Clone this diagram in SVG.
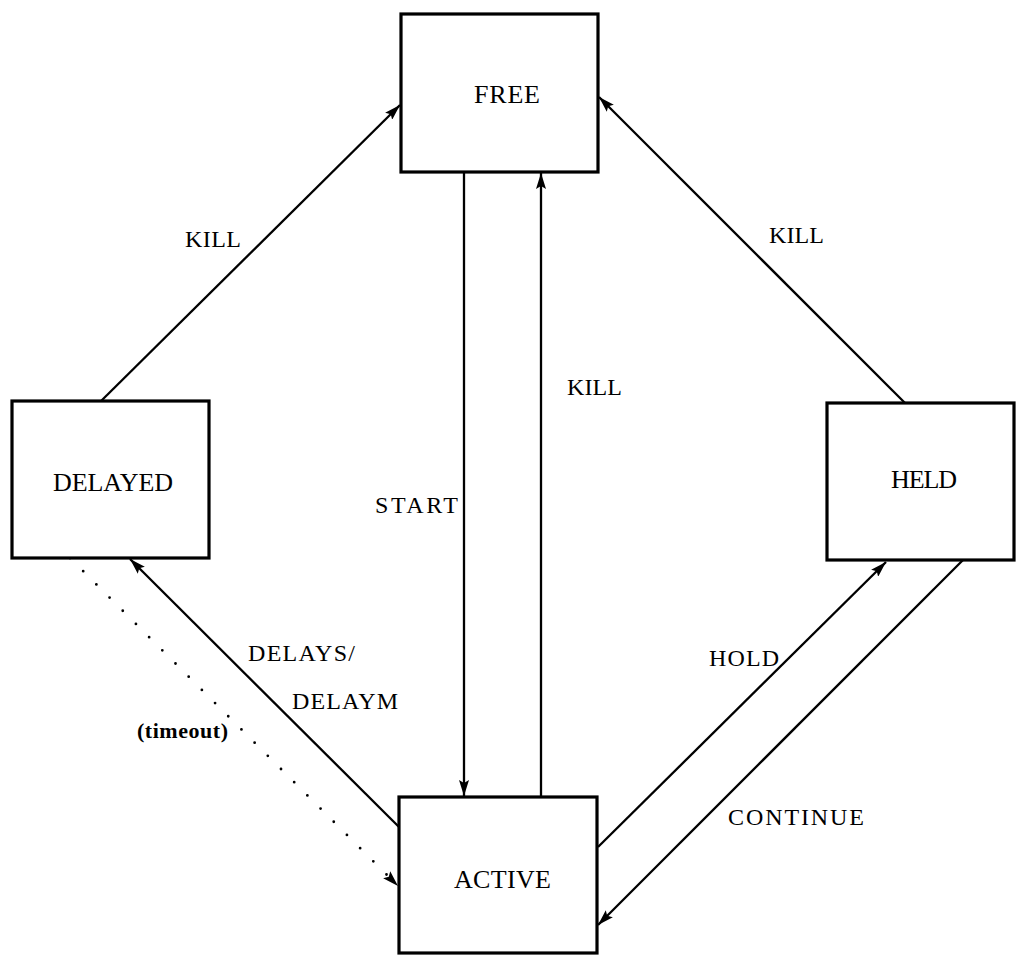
<svg xmlns="http://www.w3.org/2000/svg" width="1016" height="955" viewBox="0 0 1016 955">
  <style>
    .box { fill: #fff; stroke: #000; stroke-width: 3.2; }
    .node { font-family: "Liberation Serif", "DejaVu Serif", serif; font-size: 26px; fill: #000; }
    .lbl { font-family: "Liberation Serif", "DejaVu Serif", serif; font-size: 24px; fill: #000; }
    .bold { font-weight: bold; font-size: 22px; }
    .edge { stroke: #000; stroke-width: 2.3; fill: none; marker-end: url(#arrow); }
    .dot { stroke: #000; stroke-width: 2.8; fill: none; stroke-linecap: round; stroke-dasharray: 0 18.65; marker-end: url(#arrow); }
  </style>
  <defs>
    <marker id="arrow" viewBox="0 0 16 10" markerWidth="16" markerHeight="10" refX="16" refY="5" orient="auto" markerUnits="userSpaceOnUse">
      <path d="M0,0 L16,5 L0,10 L3,5 z" fill="#000"/>
    </marker>
  </defs>
  <rect width="1016" height="955" fill="#fff"/>
  <g id="connectors">
    <line class="edge" x1="97" y1="405" x2="400" y2="105"/>
    <line class="edge" x1="905" y1="403" x2="599" y2="97"/>
    <line class="edge" x1="464" y1="172" x2="464" y2="796"/>
    <line class="edge" x1="541" y1="797" x2="541" y2="173"/>
    <line class="edge" x1="399" y1="827" x2="130" y2="559"/>
    <line class="dot" x1="70" y1="558" x2="398" y2="886"/>
    <line class="edge" x1="598" y1="847" x2="886" y2="562"/>
    <line class="edge" x1="963" y1="560" x2="598" y2="925"/>
    <text class="lbl" x="185" y="247" textLength="56" lengthAdjust="spacing">KILL</text>
    <text class="lbl" x="769" y="243" textLength="55" lengthAdjust="spacing">KILL</text>
    <text class="lbl" x="567" y="395" textLength="55" lengthAdjust="spacing">KILL</text>
    <text class="lbl" x="375" y="513" textLength="83" lengthAdjust="spacing">START</text>
    <text class="lbl" x="248" y="661" textLength="107" lengthAdjust="spacing">DELAYS/</text>
    <text class="lbl" x="292" y="709" textLength="106" lengthAdjust="spacing">DELAYM</text>
    <text class="lbl bold" x="137" y="738" textLength="91" lengthAdjust="spacing">(timeout)</text>
    <text class="lbl" x="709" y="666" textLength="70" lengthAdjust="spacing">HOLD</text>
    <text class="lbl" x="728" y="825" textLength="136" lengthAdjust="spacing">CONTINUE</text>
  </g>
  <g id="free">
    <rect class="box" x="401" y="14" width="197" height="158"/>
    <text class="node" x="474" y="103" textLength="66" lengthAdjust="spacing">FREE</text>
  </g>
  <g id="delayed">
    <rect class="box" x="12" y="401" width="197" height="157"/>
    <text class="node" x="53" y="491" textLength="120" lengthAdjust="spacing">DELAYED</text>
  </g>
  <g id="held">
    <rect class="box" x="827" y="403" width="187" height="157"/>
    <text class="node" x="891" y="488" textLength="66" lengthAdjust="spacing">HELD</text>
  </g>
  <g id="active">
    <rect class="box" x="399" y="797" width="198" height="156"/>
    <text class="node" x="454" y="888" textLength="97" lengthAdjust="spacing">ACTIVE</text>
  </g>
</svg>
